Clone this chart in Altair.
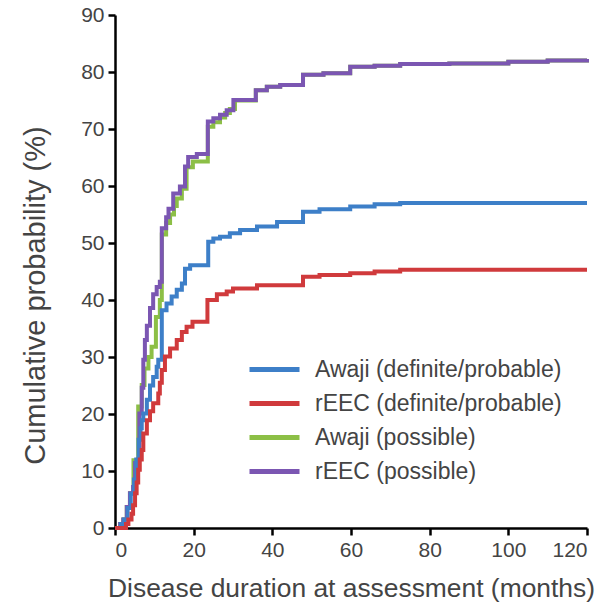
import altair as alt
import pandas as pd

SERIES = ["Awaji (definite/probable)", "rEEC (definite/probable)", "Awaji (possible)", "rEEC (possible)"]
COLORS = ["#3d7fc8", "#d03a3c", "#8cbf46", "#7b56b2"]

x_ticks = [0, 20, 40, 60, 80, 100, 120]
y_ticks = [0, 10, 20, 30, 40, 50, 60, 70, 80, 90]

# rEEC (possible) - purple
reec_pos_months = [0, 1.3, 2.1, 3.0, 3.8, 4.6, 5.1, 5.9, 6.2, 6.8, 7.2, 7.6, 8.1, 8.9, 9.7, 10.6, 11.4, 11.9,
                   13.0, 13.6, 14.8, 16.5, 17.8, 18.6, 20.8, 23.6, 25.0, 26.7, 28.4, 30.1, 35.8, 38.6, 42.0,
                   47.8, 53.0, 59.8, 66.0, 72.5, 85.0, 100.0, 110.0, 120.0]
reec_pos_pct = [0, 0.7, 1.5, 3.7, 6.1, 7.2, 11.4, 12.0, 20.1, 24.6, 29.5, 33.0, 35.5, 38.6, 41.0, 42.3, 43.2, 52.6,
                54.5, 56.0, 58.7, 59.9, 63.4, 65.1, 65.6, 71.3, 71.9, 72.5, 73.3, 75.1, 76.8, 77.4, 77.7,
                79.5, 79.8, 80.9, 81.1, 81.4, 81.5, 81.8, 82.0, 82.3]

# Awaji (possible) - green
awaji_pos_months = [0, 1.3, 2.1, 3.0, 3.8, 4.7, 5.9, 6.8, 7.5, 8.5, 9.3, 10.4, 11.4, 11.9,
                    13.0, 14.0, 15.0, 15.7, 17.0, 18.2, 19.8, 23.6, 25.0, 26.7, 28.0, 29.2, 30.5, 35.8, 38.6, 42.0,
                    47.8, 53.0, 59.8, 66.0, 72.5, 85.0, 100.0, 110.0, 120.0]
awaji_pos_pct = [0, 0.7, 1.5, 3.7, 6.1, 11.9, 21.3, 25.1, 28.0, 30.0, 31.8, 37.0, 40.0, 51.5,
                 53.5, 55.0, 56.5, 57.8, 59.5, 63.3, 64.3, 70.4, 71.2, 72.0, 72.8, 73.5, 75.0, 76.8, 77.4, 77.7,
                 79.5, 79.8, 80.9, 81.1, 81.4, 81.5, 81.8, 82.0, 82.3]

# Awaji (definite/probable) - blue
awaji_dp_months = [0, 1.5, 2.3, 3.2, 4.0, 4.8, 5.4, 6.0, 6.5, 6.8, 7.2, 8.1, 8.9, 9.7, 10.6, 11.0, 11.9,
                   13.1, 14.4, 15.7, 17.0, 17.8, 19.1, 23.7, 25.0, 26.7, 29.2, 31.8, 36.1, 41.2, 47.8,
                   52.0, 59.8, 66.0, 72.5, 120.0]
awaji_dp_pct = [0, 0.7, 1.5, 3.5, 6.0, 8.5, 12.0, 15.5, 17.5, 18.9, 20.1, 22.5, 25.0, 26.5, 28.3, 29.5, 38.2,
                39.4, 40.6, 41.8, 42.9, 45.5, 46.1, 50.2, 50.8, 51.1, 51.7, 52.3, 52.9, 53.7, 55.5,
                55.9, 56.4, 56.8, 57.0, 57.0]

# rEEC (definite/probable) - red
reec_dp_months = [0, 2.8, 3.4, 4.2, 4.6, 5.1, 5.5, 5.9, 6.3, 6.8, 7.2, 8.1, 8.9, 9.7, 11.0, 11.4, 11.9,
                  12.7, 14.0, 15.7, 17.0, 18.2, 19.7, 23.5, 25.9, 28.4, 30.0, 36.1, 41.2, 47.8,
                  52.0, 59.8, 66.0, 72.5, 120.0]
reec_dp_pct = [0, 0.7, 1.5, 2.5, 4.0, 6.1, 8.0, 10.2, 12.0, 13.7, 16.6, 18.9, 20.5, 21.9, 23.6, 25.5, 27.7,
               30.1, 31.5, 33.0, 34.4, 35.3, 36.2, 40.0, 41.0, 41.5, 42.0, 42.6, 42.6, 44.1,
               44.4, 44.7, 45.0, 45.3, 45.3]

def frame(name, months, pct):
    return pd.DataFrame({"month": months, "pct": pct, "series": name})

df_green = frame(SERIES[2], awaji_pos_months, awaji_pos_pct)
df_purple = frame(SERIES[3], reec_pos_months, reec_pos_pct)
df_blue = frame(SERIES[0], awaji_dp_months, awaji_dp_pct)
df_red = frame(SERIES[1], reec_dp_months, reec_dp_pct)

FONT = "Liberation Sans"

color = alt.Color(
    "series:N",
    scale=alt.Scale(domain=SERIES, range=COLORS),
    legend=alt.Legend(
        orient="none", legendX=132, legendY=343, title=None,
        symbolType="stroke", symbolSize=2500, symbolStrokeWidth=5,
        labelFontSize=23, labelColor="#444", labelFont=FONT,
        clipHeight=23, rowPadding=10, labelOffset=13, padding=0, labelLimit=400,
    ),
)

x = alt.X("month:Q", scale=alt.Scale(domain=[0, 120], nice=False),
          axis=alt.Axis(values=x_ticks, title="Disease duration at assessment (months)"))
y = alt.Y("pct:Q", scale=alt.Scale(domain=[0, 90], nice=False),
          axis=alt.Axis(values=y_ticks, title="Cumulative probability (%)", titleY=280))

def layer(df):
    return alt.Chart(df).mark_line(interpolate="step-after", strokeWidth=4).encode(x=x, y=y, color=color)

chart = alt.layer(layer(df_green), layer(df_purple), layer(df_blue), layer(df_red)).properties(
    width=472, height=513,
    autosize=alt.AutoSizeParams(type="none"),
    padding={"left": 115, "top": 15, "right": 23, "bottom": 77},
).configure_view(stroke=None).configure_axis(
    grid=False, domainColor="black", domainWidth=2.5, tickColor="black", tickWidth=2.5, tickSize=7,
    labelFontSize=21, labelColor="#444", labelFont=FONT, labelPadding=4,
    titleColor="#444", titleFont=FONT, titleFontWeight="normal",
).configure_axisX(titlePadding=15, titleFontSize=26.4).configure_axisY(titlePadding=30, titleFontSize=29)

chart.save("out.html", embed_options={"renderer": "svg", "actions": False})
